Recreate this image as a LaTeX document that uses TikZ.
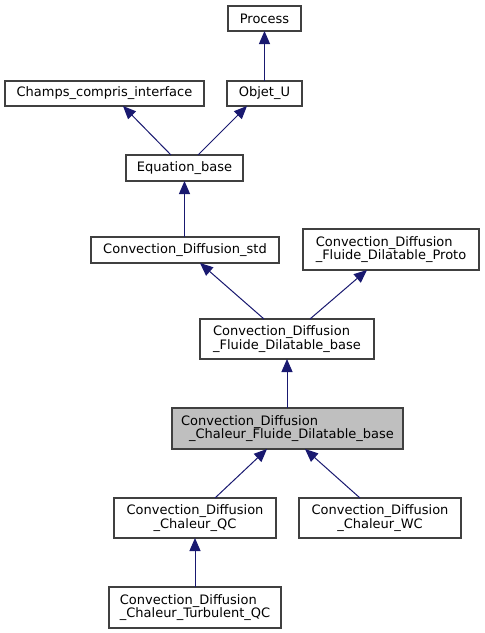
\documentclass[tikz,border=0pt]{standalone}
\usepackage{fontspec}
\setmainfont{DejaVu Sans}
\usetikzlibrary{arrows.meta}
\definecolor{edgeblue}{HTML}{191970}
\definecolor{boxborder}{HTML}{404040}
\definecolor{boxgray}{HTML}{BFBFBF}
\tikzset{
  cls/.style={draw=boxborder, line width=1.3pt, fill=white, inner sep=0pt, outer sep=0pt,
    font=\fontsize{13}{13.2}\selectfont, text=black},
  clsleft/.style={cls, align=left},
  clscenter/.style={cls, align=center},
  edge/.style={draw=edgeblue, line width=1pt, -{Triangle[length=13pt,width=11pt]}}
}
\begin{document}
\begin{tikzpicture}[x=1pt, y=-1pt]
\useasboundingbox[fill=white] (0,0) rectangle (485,633);
\node[cls, minimum width=73pt, minimum height=25pt] (proc) at (264.5,18.5) {Process};
\node[cls, minimum width=199pt, minimum height=25pt] (champs) at (104.5,93.5) {Champs\_compris\_interface};
\node[cls, minimum width=75pt, minimum height=25pt] (objet) at (264.5,93.5) {Objet\_U};
\node[cls, minimum width=117pt, minimum height=26pt] (eq) at (184.5,168) {Equation\_base};
\node[cls, minimum width=188pt, minimum height=26pt] (std) at (185,250) {Convection\_Diffusion\_std};
\node[clsleft, minimum width=176pt, minimum height=41pt] (proto) at (391,249.5) {Convection\_Diffusion\\\_Fluide\_Dilatable\_Proto};
\node[clsleft, minimum width=174pt, minimum height=40pt] (fbase) at (287,339) {Convection\_Diffusion\\\_Fluide\_Dilatable\_base};
\node[clsleft, fill=boxgray, minimum width=231pt, minimum height=41pt] (cbase) at (287.5,428.5) {Convection\_Diffusion\\\hspace*{8pt}\_Chaleur\_Fluide\_Dilatable\_base};
\node[clscenter, minimum width=162pt, minimum height=40pt] (qc) at (195,518) {Convection\_Diffusion\\\_Chaleur\_QC};
\node[clscenter, minimum width=162pt, minimum height=40pt] (wc) at (380,518) {Convection\_Diffusion\\\_Chaleur\_WC};
\node[clsleft, minimum width=172pt, minimum height=41pt] (turb) at (195,607.5) {Convection\_Diffusion\\\_Chaleur\_Turbulent\_QC};

\draw[edge] (objet.north) -- (proc.south);
\draw[edge] ([xshift=-13.5pt]eq.north) -- ([xshift=18.5pt]champs.south);
\draw[edge] ([xshift=13.5pt]eq.north) -- ([xshift=-17.5pt]objet.south);
\draw[edge] (std.north -| eq.south) -- (eq.south);
\draw[edge] ([xshift=-23pt]fbase.north) -- ([xshift=15pt]std.south);
\draw[edge] ([xshift=23pt]fbase.north) -- ([xshift=-24pt]proto.south);
\draw[edge] (cbase.north -| fbase.south) -- (fbase.south);
\draw[edge] ([xshift=20pt]qc.north) -- ([xshift=-20.5pt]cbase.south);
\draw[edge] ([xshift=-20pt]wc.north) -- ([xshift=17.5pt]cbase.south);
\draw[edge] (turb.north) -- (qc.south);
\end{tikzpicture}
\end{document}
